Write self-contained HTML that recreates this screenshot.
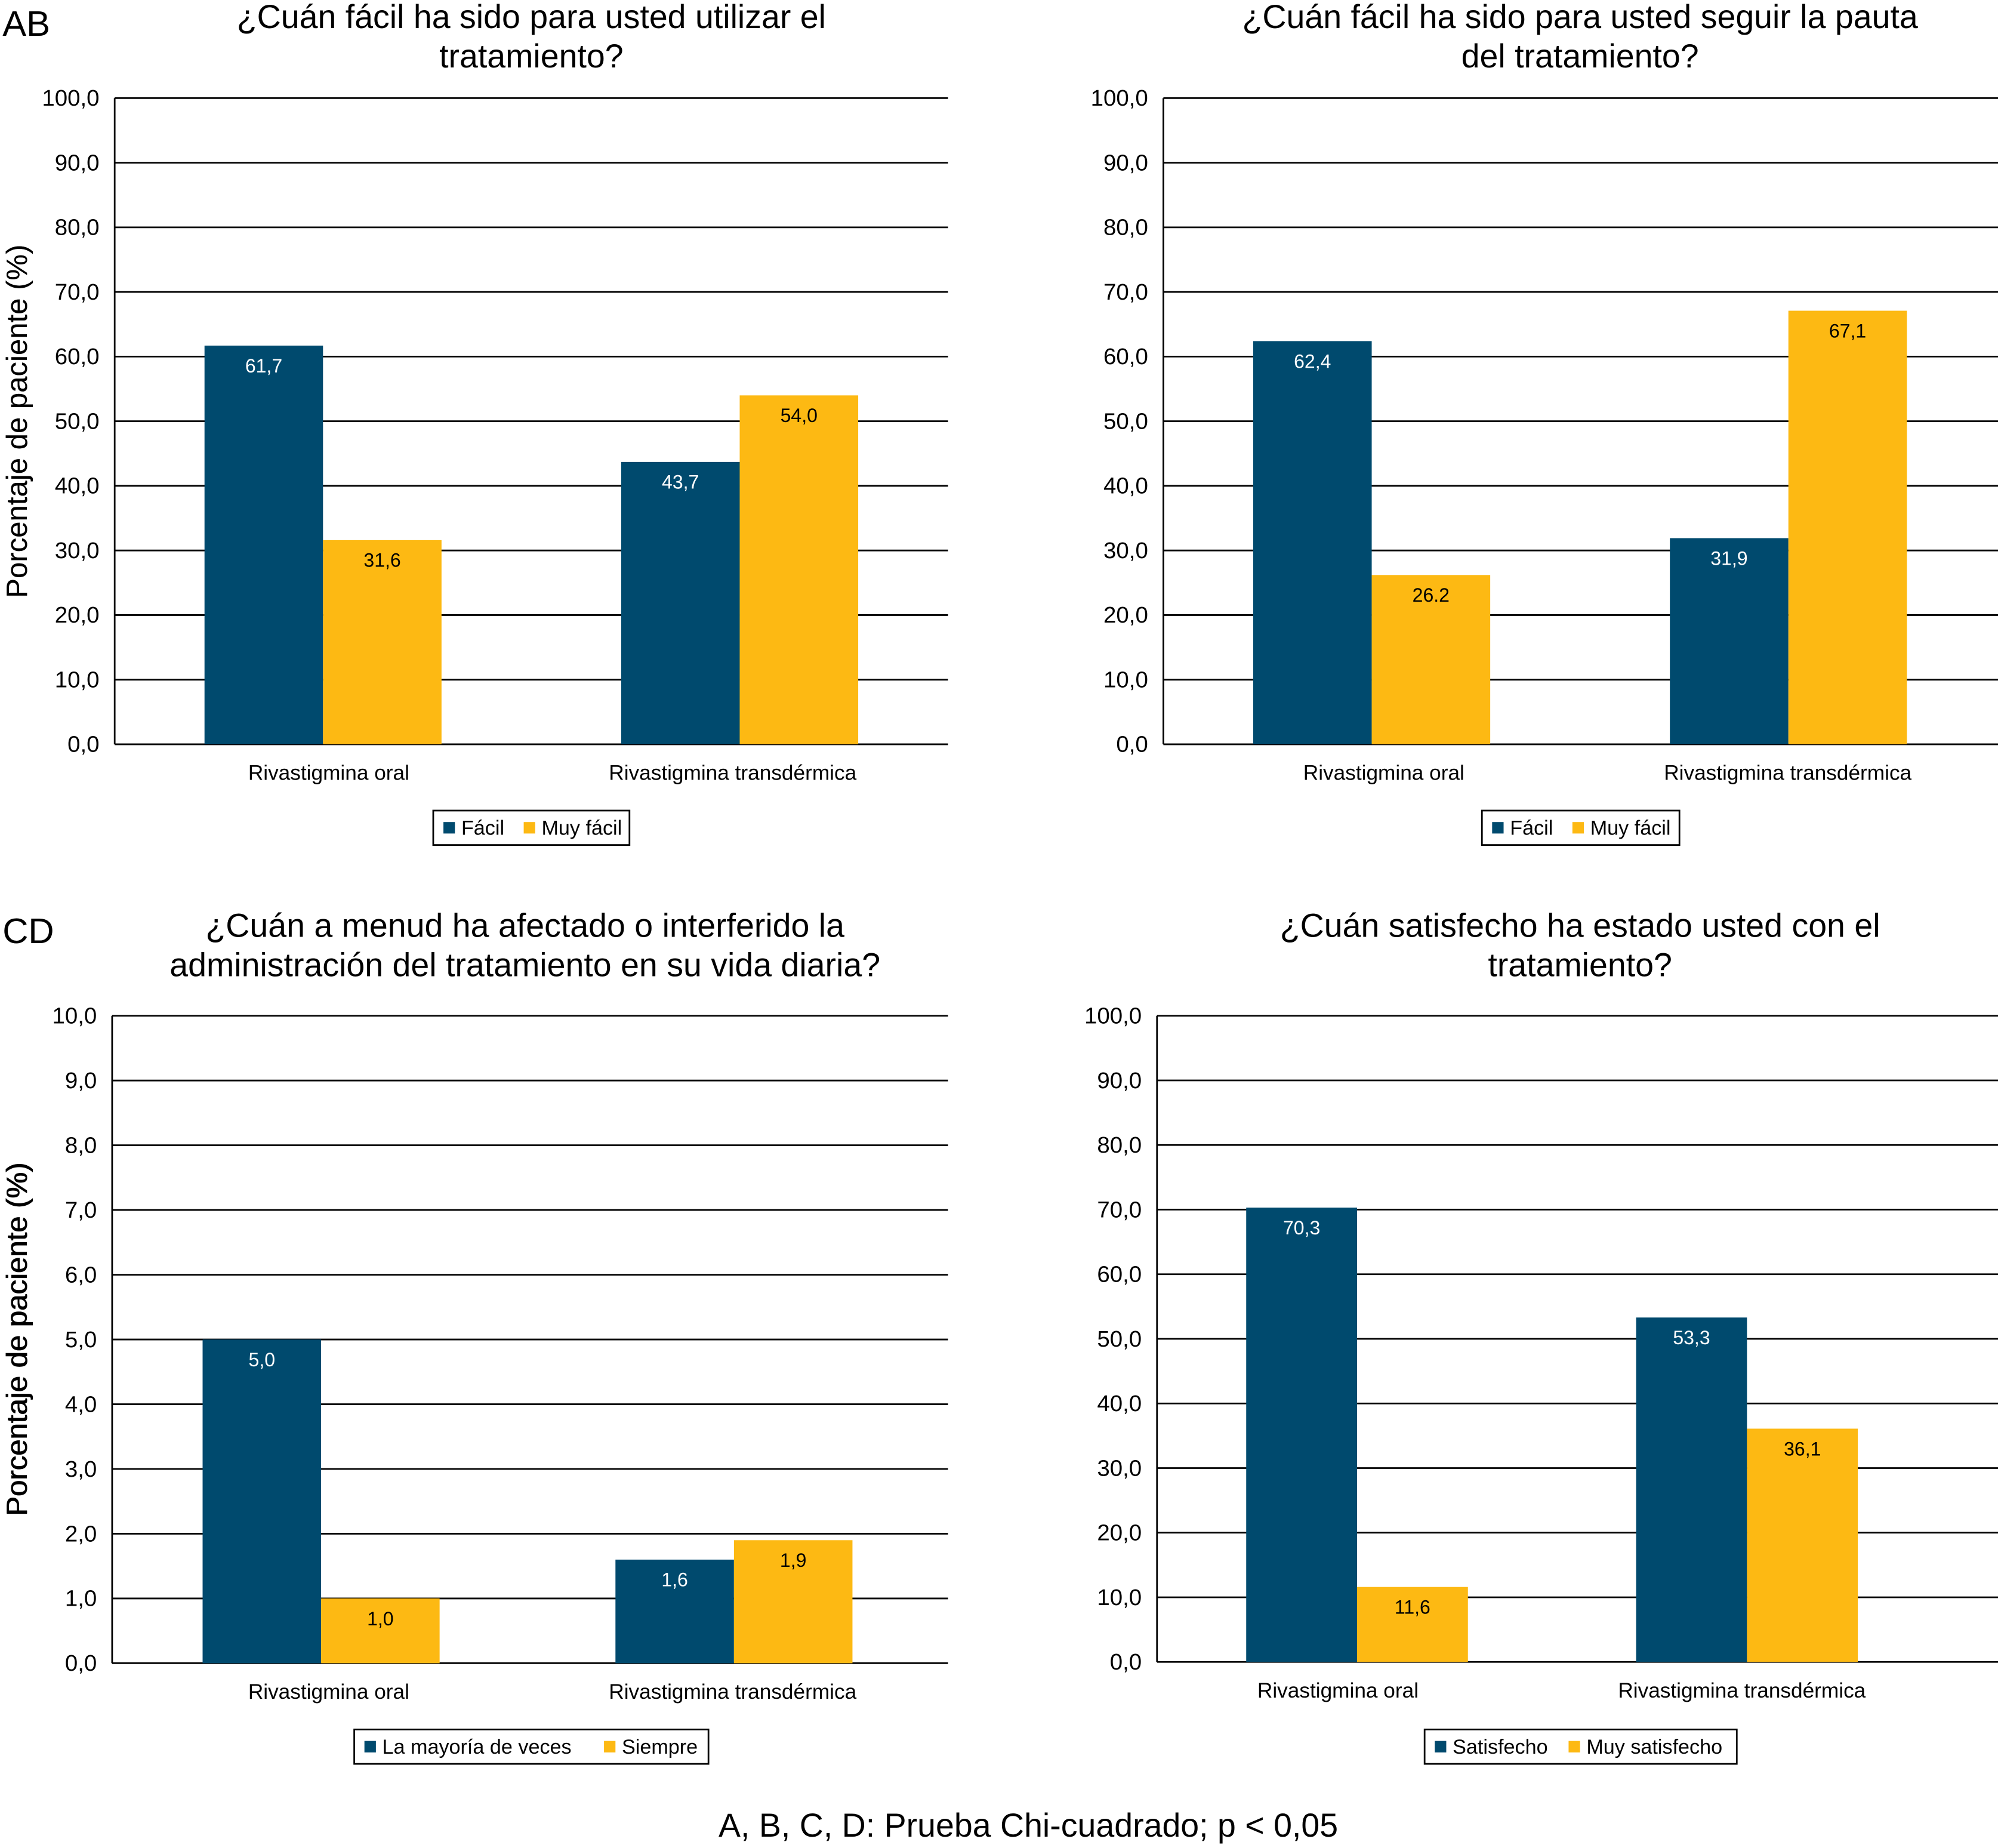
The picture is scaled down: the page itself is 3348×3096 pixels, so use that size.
<!DOCTYPE html>
<html><head><meta charset="utf-8"><style>html,body{margin:0;padding:0;background:#fff}svg{display:block}text{font-family:"Liberation Sans",sans-serif}</style></head>
<body>
<svg id="chart" width="3348" height="3096" viewBox="0 0 1568 1450" preserveAspectRatio="none" xmlns="http://www.w3.org/2000/svg">
<text x="2" y="28" font-size="28">AB</text>
<text x="2" y="740" font-size="28">CD</text>
<text x="807" y="1441" font-size="26" text-anchor="middle">A, B, C, D: Prueba Chi-cuadrado; p &lt; 0,05</text>
</svg>
<script>
const categories = ["Rivastigmina oral", "Rivastigmina transdérmica"];
const seriesA1 = [61.7, 43.7];
const seriesA2 = [31.6, 54.0];
const seriesB1 = [62.4, 31.9];
const seriesB2 = [26.2, 67.1];
const seriesC1 = [5.0, 1.6];
const seriesC2 = [1.0, 1.9];
const seriesD1 = [70.3, 53.3];
const seriesD2 = [11.6, 36.1];
const labelsA1 = ["61,7","43,7"], labelsA2 = ["31,6","54,0"];
const labelsB1 = ["62,4","31,9"], labelsB2 = ["26.2","67,1"];
const labelsC1 = ["5,0","1,6"], labelsC2 = ["1,0","1,9"];
const labelsD1 = ["70,3","53,3"], labelsD2 = ["11,6","36,1"];
const ticks100 = [0,10,20,30,40,50,60,70,80,90,100];
const ticks10 = [0,1,2,3,4,5,6,7,8,9,10];

const NS = "http://www.w3.org/2000/svg";
const svg = document.getElementById("chart");
function mk(tag, attrs, parent){const e=document.createElementNS(NS,tag);for(const k in attrs)e.setAttribute(k,attrs[k]);(parent||svg).appendChild(e);return e;}
const BLUE="#004a6e", YEL="#fdb913";

function panel(p){
  const g = mk("g",{});
  
  
  const maxV = p.ticks[p.ticks.length-1];
  const y = v => p.yb - (v/maxV)*(p.yb-p.yt);
  p.title.forEach((t,i)=>{const e=mk("text",{x:p.tc,y:p.ty+i*31,"font-size":26,"text-anchor":"middle"},g);e.textContent=t;
    
    });
  p.ticks.forEach(t=>{
    const l=mk("line",{x1:p.ax,x2:p.gx,y1:y(t),y2:y(t),stroke:"#000","stroke-width":1.3},g);
    
    
    const tx=mk("text",{x:p.ax-12,y:y(t)+6,"font-size":18,"text-anchor":"end"},g);
    tx.textContent=p.fmt(t);
    
    
  });
  const ax=mk("line",{x1:p.ax,x2:p.ax,y1:p.yt,y2:p.yb,stroke:"#000","stroke-width":1.3},g);
  
  
  const yt=mk("text",{x:0,y:0,"font-size":23,"text-anchor":"middle",transform:`translate(21,${(p.yt+p.yb)/2}) rotate(-90)`},g);
  yt.textContent="Porcentaje de paciente (%)";
  
  
  categories.forEach((c,i)=>{
    const cx=p.x0+(i+0.5)*p.cw;
    [[p.s1,p.l1,BLUE,"#fff",-1],[p.s2,p.l2,YEL,"#000",0]].forEach(([s,lb,col,tc,off],j)=>{
      const bx=cx+off*p.bw;
      const r=mk("rect",{x:bx,y:y(s[i]),width:p.bw,height:p.yb-y(s[i]),fill:col},g);
      
      
      const t=mk("text",{x:bx+p.bw/2,y:y(s[i])+21,"font-size":15,"text-anchor":"middle",fill:tc},g);
      t.textContent=lb[i];
      
      
    });
    const cl=mk("text",{x:p.lc[i],y:p.yb+28,"font-size":16.5,"text-anchor":"middle"},g);
    cl.textContent=c;
    
    
  });
  const lg=mk("g",{},g);
  
  
  mk("rect",{x:p.lx,y:p.ly,width:p.lw,height:27,fill:"#fff",stroke:"#000","stroke-width":1.3},lg);
  mk("rect",{x:p.lx+8,y:p.ly+9,width:9,height:9,fill:BLUE},lg);
  const t1=mk("text",{x:p.lx+22,y:p.ly+19,"font-size":16},lg);t1.textContent=p.leg[0];
  
  
  mk("rect",{x:p.lx+p.l2x,y:p.ly+9,width:9,height:9,fill:YEL},lg);
  const t2=mk("text",{x:p.lx+p.l2x+14,y:p.ly+19,"font-size":16},lg);t2.textContent=p.leg[1];
  
  
}
const f1=t=>t.toFixed(1).replace(".",",");
panel({name:"panel-a",title:["¿Cuán fácil ha sido para usted utilizar el","tratamiento?"],tc:417,ty:22,ax:90,gx:744,yt:77,yb:584,x0:90,cw:327,bw:93,lc:[258,575],
  ticks:ticks100,fmt:f1,s1:seriesA1,s2:seriesA2,l1:labelsA1,l2:labelsA2,leg:["Fácil","Muy fácil"],lx:340,ly:636,lw:154,l2x:71});
panel({name:"panel-b",title:["¿Cuán fácil ha sido para usted seguir la pauta","del tratamiento?"],tc:1240,ty:22,ax:913,gx:1568,yt:77,yb:584,x0:913,cw:327,bw:93,lc:[1086,1403],
  ticks:ticks100,fmt:f1,s1:seriesB1,s2:seriesB2,l1:labelsB1,l2:labelsB2,leg:["Fácil","Muy fácil"],lx:1163,ly:636,lw:155,l2x:71});
panel({name:"panel-c",title:["¿Cuán a menud ha afectado o interferido la","administración del tratamiento en su vida diaria?"],tc:412,ty:735,ax:88,gx:744,yt:797,yb:1305,x0:90,cw:324,bw:93,lc:[258,575],
  ticks:ticks10,fmt:f1,s1:seriesC1,s2:seriesC2,l1:labelsC1,l2:labelsC2,leg:["La mayoría de veces","Siempre"],lx:278,ly:1357,lw:278,l2x:196});
panel({name:"panel-d",title:["¿Cuán satisfecho ha estado usted con el","tratamiento?"],tc:1240,ty:735,ax:908,gx:1568,yt:797,yb:1304,x0:912,cw:306,bw:87,lc:[1050,1367],
  ticks:ticks100,fmt:f1,s1:seriesD1,s2:seriesD2,l1:labelsD1,l2:labelsD2,leg:["Satisfecho","Muy satisfecho"],lx:1118,ly:1357,lw:245,l2x:113});
</script>
</body></html>
